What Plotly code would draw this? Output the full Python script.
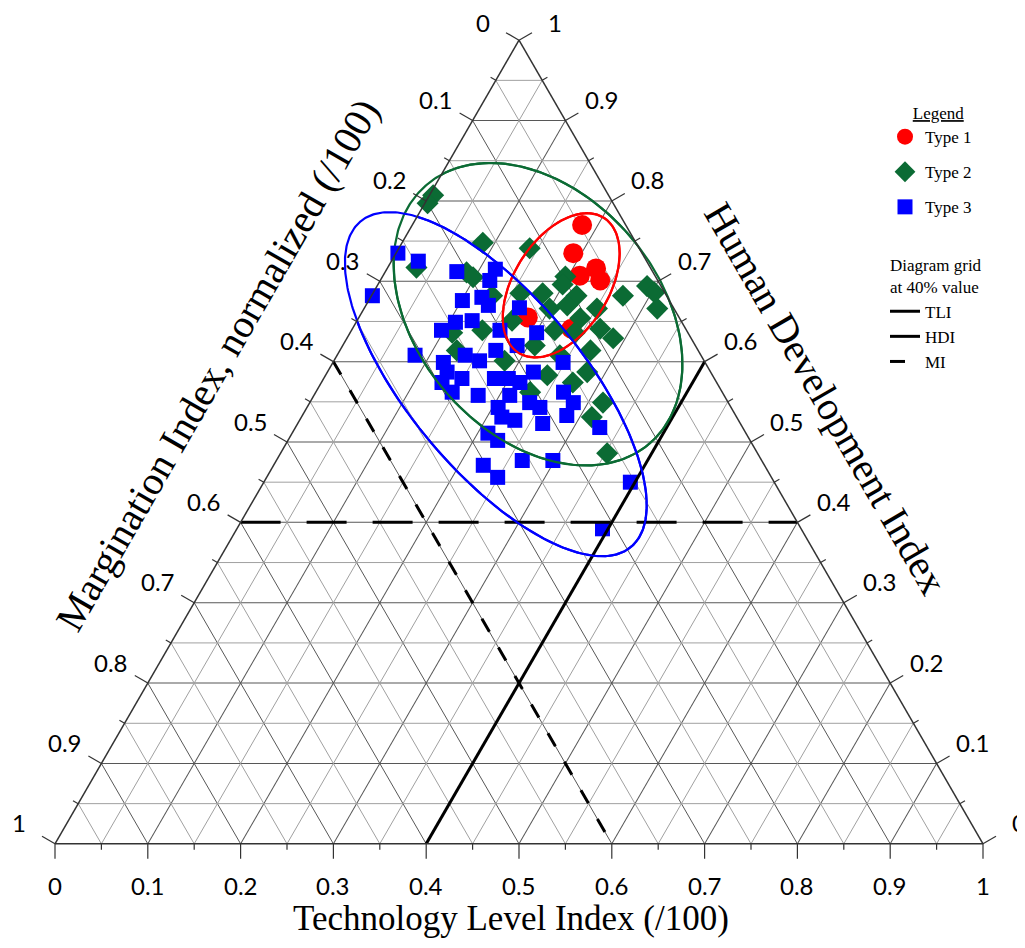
import numpy as np
import plotly.graph_objects as go

# ---------------- data (HDI = top vertex, TLI = bottom-right vertex, MI = 1 - HDI - TLI)
type1_hdi = [0.770, 0.735, 0.707, 0.716, 0.701, 0.655, 0.641]
type1_tli = [0.183, 0.191, 0.212, 0.225, 0.237, 0.182, 0.236]

type2_hdi = [0.807, 0.797, 0.748, 0.717, 0.711, 0.705, 0.682, 0.741, 0.706, 0.696,
             0.694, 0.686, 0.682, 0.682, 0.685, 0.636, 0.639, 0.614, 0.601, 0.666,
             0.670, 0.666, 0.641, 0.629, 0.614, 0.666, 0.583, 0.562, 0.587, 0.574,
             0.549, 0.531, 0.486, 0.685, 0.651, 0.620, 0.608, 0.639, 0.654, 0.636]
type2_tli = [0.004, 0.003, 0.087, 0.031, 0.088, 0.098, 0.130, 0.141, 0.197, 0.199,
             0.291, 0.303, 0.271, 0.221, 0.183, 0.110, 0.141, 0.126, 0.184, 0.200,
             0.217, 0.251, 0.267, 0.287, 0.270, 0.316, 0.239, 0.231, 0.280, 0.271,
             0.316, 0.313, 0.352, 0.159, 0.167, 0.207, 0.240, 0.219, 0.239, 0.242]

type3_hdi = [0.735, 0.725, 0.682, 0.712, 0.715, 0.701, 0.680, 0.608, 0.599, 0.649,
             0.651, 0.670, 0.608, 0.574, 0.562, 0.558, 0.543, 0.579, 0.667, 0.636,
             0.620, 0.599, 0.574, 0.587, 0.562, 0.549, 0.543, 0.549, 0.511, 0.502,
             0.471, 0.456, 0.531, 0.527, 0.523, 0.533, 0.518, 0.477, 0.477, 0.450,
             0.392, 0.639, 0.587, 0.579, 0.601, 0.614, 0.639, 0.558, 0.579, 0.676]
type3_tli = [0.002, 0.029, 0.001, 0.077, 0.117, 0.118, 0.120, 0.084, 0.119, 0.107,
             0.124, 0.132, 0.138, 0.130, 0.147, 0.177, 0.206, 0.199, 0.167, 0.201,
             0.188, 0.248, 0.214, 0.222, 0.267, 0.284, 0.251, 0.237, 0.211, 0.226,
             0.226, 0.249, 0.216, 0.232, 0.264, 0.285, 0.328, 0.265, 0.298, 0.395,
             0.394, 0.097, 0.129, 0.149, 0.157, 0.168, 0.160, 0.211, 0.184, 0.101]

# confidence ellipses: centre (HDI, TLI), semi-axes (fraction of side), rotation (deg)
ell_center_hdi = [0.695, 0.659, 0.572]
ell_center_tli = [0.198, 0.191, 0.189]
ell_major = [0.086, 0.184, 0.228]
ell_minor = [0.051, 0.130, 0.094]
ell_angle = [57.8, 131.0, 129.7]

grid_level = 0.4
major_ticks = [round(i * 0.1, 1) for i in range(11)]
all_ticks = [round(i * 0.05, 2) for i in range(21)]
minor_vals = [round(0.05 + i * 0.1, 2) for i in range(10)]

RED = "#ff0000"
GREEN = "#0b6b34"
BLUE = "#0000ff"
SERIF = "Liberation Serif"
SANS = "Lato"

# ---------------- layout geometry (figure pixels)
W, H = 1025, 948
L, T, PW, PH = 47, 32, 928, 804
R, B = W - L - PW, H - T - PH
PAGE = 8          # default body margin of the html page
S3 = np.sqrt(3) / 2
SIDE = min(PW, PH / S3)
X0 = (PW - SIDE) / 2
Y0 = (PH - SIDE * S3) / 2


def px_to_paper(px, py):
    return (px - PAGE - L) / PW, (T + PH - (py - PAGE)) / PH


def tern_to_paper(a, c):
    return (X0 + (c + a / 2) * SIDE) / PW, (Y0 + a * S3 * SIDE) / PH


def mi_of(h, t):
    return [round(1 - a - b, 3) for a, b in zip(h, t)]


def fmt(v):
    v = round(v, 2)
    if v == 0:
        return "0"
    if v == 1:
        return "1"
    return f"{v:.1f}"


def ellipse_xy(ch, ct, A, Bm, ang, n=361):
    """ellipse in the triangle's cartesian frame (side = 1, origin at MI vertex)"""
    cy = ch * S3
    cx = ct + ch / 2
    t = np.linspace(0, 2 * np.pi, n)
    phi = np.deg2rad(ang)
    x = cx + A * np.cos(t) * np.cos(phi) - Bm * np.sin(t) * np.sin(phi)
    y = cy + A * np.cos(t) * np.sin(phi) + Bm * np.sin(t) * np.cos(phi)
    return x, y


def xy_to_abc(x, y):
    a = y / S3
    c = x - a / 2
    return a, 1 - a - c, c


fig = go.Figure()

# ellipse parts that reach outside the triangle: drawn on a hidden cartesian
# frame aligned with the triangle (the ternary copy below covers the inside)
for ch, ct, A, Bm, ang, col in zip(ell_center_hdi, ell_center_tli, ell_major,
                                   ell_minor, ell_angle, [RED, GREEN, BLUE]):
    ex, ey = ellipse_xy(ch, ct, A, Bm, ang)
    fig.add_trace(go.Scatter(x=ex, y=ey, mode="lines", xaxis="x", yaxis="y",
                             line=dict(color=col, width=2.2),
                             hoverinfo="skip", showlegend=False))

# minor grid lines (0.05 steps)
ga, gb, gc = [], [], []
for v in minor_vals:
    ga += [v, v, None]; gb += [1 - v, 0, None]; gc += [0, 1 - v, None]
    ga += [1 - v, 0, None]; gb += [v, v, None]; gc += [0, 1 - v, None]
    ga += [1 - v, 0, None]; gb += [0, 1 - v, None]; gc += [v, v, None]
fig.add_trace(go.Scatterternary(a=ga, b=gb, c=gc, mode="lines",
                                line=dict(color="#a0a0a0", width=1),
                                hoverinfo="skip", showlegend=False))

# markers
fig.add_trace(go.Scatterternary(
    a=type1_hdi, b=mi_of(type1_hdi, type1_tli), c=type1_tli, mode="markers",
    name="Type 1", legendgroup="t1", legendrank=1, cliponaxis=False,
    marker=dict(symbol="circle", size=20, color=RED, line=dict(width=0))))
fig.add_trace(go.Scatterternary(
    a=type2_hdi, b=mi_of(type2_hdi, type2_tli), c=type2_tli, mode="markers",
    name="Type 2", legendgroup="t2", legendrank=2, cliponaxis=False,
    marker=dict(symbol="diamond", size=17, color=GREEN, line=dict(width=0))))
fig.add_trace(go.Scatterternary(
    a=type3_hdi, b=mi_of(type3_hdi, type3_tli), c=type3_tli, mode="markers",
    name="Type 3", legendgroup="t3", legendrank=3, cliponaxis=False,
    marker=dict(symbol="square", size=15, color=BLUE, line=dict(width=0))))

# 40 % grid lines
g = grid_level
fig.add_trace(go.Scatterternary(
    a=[0, 1 - g], b=[1 - g, 0], c=[g, g], mode="lines", name="TLI",
    legendgroup="grid",
    legendgrouptitle=dict(text=" <br>Diagram grid<br>at 40% value",
                          font=dict(family=SERIF, size=17, color="black")),
    legendrank=4, line=dict(color="black", width=3)))
fig.add_trace(go.Scatterternary(
    a=[g, g], b=[1 - g, 0], c=[0, 1 - g], mode="lines", name="HDI",
    legendgroup="grid", legendrank=5,
    line=dict(color="black", width=3, dash="40px,26px")))
fig.add_trace(go.Scatterternary(
    a=[1 - g, 0], b=[g, g], c=[0, 1 - g], mode="lines", name="MI",
    legendgroup="grid", legendrank=6,
    line=dict(color="black", width=3, dash="15px,18px")))

# ellipses inside the triangle, on top of the markers
for ch, ct, A, Bm, ang, col in zip(ell_center_hdi, ell_center_tli, ell_major,
                                   ell_minor, ell_angle, [RED, GREEN, BLUE]):
    ea, eb, ec = xy_to_abc(*ellipse_xy(ch, ct, A, Bm, ang))
    fig.add_trace(go.Scatterternary(a=ea, b=eb, c=ec, mode="lines",
                                    line=dict(color=col, width=2.2),
                                    hoverinfo="skip", showlegend=False))

axis_common = dict(
    tickmode="array", tickvals=major_ticks, ticks="", showline=True,
    linecolor="#333", linewidth=1.5, gridcolor="#575757", gridwidth=1, min=0,
    showticklabels=False, title=dict(text=""))

# tick marks and labels placed perpendicular to each edge, as in the reference
OFF = 42
tick_font = dict(family=SANS, size=24, color="black")
annotations = []
shapes = []
edges = [
    # edge point (a, c) for value v, outward unit direction in px (x right, y up)
    ("bottom", lambda v: (0, v), (0.0, -1.0)),      # TLI, 0 at left
    ("left", lambda v: (1 - v, 0), (-S3, 0.5)),     # MI, 0 at top
    ("right", lambda v: (v, 1 - v), (S3, 0.5)),     # HDI, 0 at bottom
]
for name, pos, (ux, uy) in edges:
    for v in all_ticks:
        a, c = pos(v)
        x, y = tern_to_paper(a, c)
        major = abs(round(v * 10) - v * 10) < 1e-6
        ln = 15 if major else 6
        shapes.append(dict(type="line", xref="paper", yref="paper",
                           x0=x, y0=y, x1=x + ux * ln / PW, y1=y + uy * ln / PH,
                           line=dict(color="#333", width=1.2)))
        if major:
            ys = uy * OFF
            if a > 0.99:          # labels beside the top vertex: keep inside the page
                ys -= 3
            annotations.append(dict(text=fmt(v), x=x, y=y, xref="paper", yref="paper",
                                    showarrow=False, xanchor="center", yanchor="middle",
                                    xshift=ux * OFF, yshift=ys, font=tick_font))

title_font = dict(family=SERIF, size=35, color="black")
side_font = dict(family=SERIF, size=40, color="black")
bx, by = px_to_paper(511, 918)
annotations.append(dict(text="Technology Level Index (/100)", x=bx, y=by,
                        xref="paper", yref="paper", showarrow=False,
                        xanchor="center", yanchor="middle", font=title_font))
lx, ly = px_to_paper(218, 365)
annotations.append(dict(text="Margination Index, normalized (/100)", x=lx, y=ly,
                        xref="paper", yref="paper", showarrow=False, textangle=-60,
                        xanchor="center", yanchor="middle", font=side_font))
rx, ry = px_to_paper(826, 398)
annotations.append(dict(text="Human Development Index", x=rx, y=ry,
                        xref="paper", yref="paper", showarrow=False, textangle=60,
                        xanchor="center", yanchor="middle", font=side_font))

legx, legy = px_to_paper(885, 97)

fig.update_layout(
    width=W, height=H,
    margin=dict(l=L, r=R, t=T, b=B),
    paper_bgcolor="white", plot_bgcolor="white",
    xaxis=dict(domain=[0, 1], range=[-X0 / SIDE, (PW - X0) / SIDE], visible=False,
               fixedrange=True),
    yaxis=dict(domain=[0, 1], range=[-Y0 / SIDE, (PH - Y0) / SIDE], visible=False,
               fixedrange=True),
    ternary=dict(
        sum=1, bgcolor="rgba(0,0,0,0)", domain=dict(x=[0, 1], y=[0, 1]),
        aaxis=axis_common, baxis=axis_common, caxis=axis_common,
    ),
    legend=dict(x=legx, y=legy, xanchor="left", yanchor="top",
                title=dict(text="<u>Legend</u>", side="top center",
                           font=dict(family=SERIF, size=17, color="black")),
                font=dict(family=SERIF, size=17, color="black"),
                itemsizing="trace", itemwidth=30, tracegroupgap=10,
                bgcolor="rgba(0,0,0,0)"),
    annotations=annotations,
    shapes=shapes,
)

fig.write_html("out.html")
